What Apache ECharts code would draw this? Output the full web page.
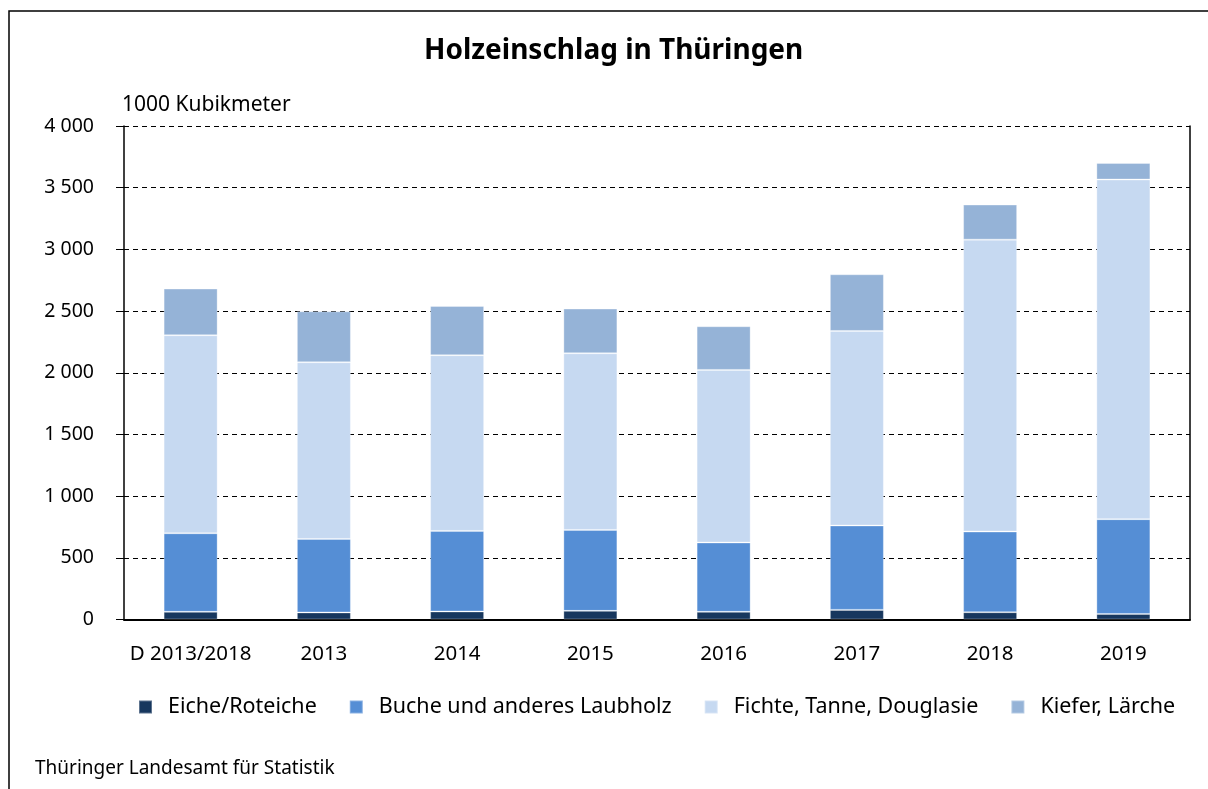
<!DOCTYPE html>
<html>
<head>
<meta charset="utf-8">
<title>Holzeinschlag in Thüringen</title>
<script src="https://cdn.jsdelivr.net/npm/echarts@6/dist/echarts.min.js"></script>
<style>
  html, body { margin: 0; padding: 0; background: #fff; }
  #chart { width: 1208px; height: 789px; }
</style>
</head>
<body>
<div id="chart"></div>
<script>
// Kategorien und Werte (1000 m³)
var categories = ['D 2013/2018', '2013', '2014', '2015', '2016', '2017', '2018', '2019'];
var eiche  = [62, 57, 65, 70, 62, 78, 59, 45];
var buche  = [637, 596, 653, 656, 562, 684, 654, 768];
var fichte = [1605, 1432, 1424, 1432, 1399, 1577, 2366, 2753];
var kiefer = [378, 413, 399, 362, 354, 459, 284, 134];
var seriesNames = ['Eiche/Roteiche', 'Buche und anderes Laubholz', 'Fichte, Tanne, Douglasie', 'Kiefer, Lärche'];
var colors = ['#17375E', '#558ED5', '#C6D9F1', '#95B3D7'];

var font = '"Noto Sans", "Open Sans", sans-serif';

function fmt(v) {
    return String(v).replace(/\B(?=(\d{3})+(?!\d))/g, ' ');
}

function makeSeries(name, data, color) {
    return {
        name: name,
        type: 'bar',
        stack: 'total',
        barWidth: 54,
        data: data,
        itemStyle: { color: color, borderColor: 'rgba(255,255,255,0.3)', borderWidth: 1 },
        emphasis: { disabled: true }
    };
}

var chart = echarts.init(document.getElementById('chart'), null, { renderer: 'canvas' });

chart.setOption({
    animation: false,
    color: colors,
    textStyle: { fontFamily: font },
    title: {
        text: 'Holzeinschlag in Thüringen',
        left: 424,
        top: 37,
        padding: 0,
        textStyle: { fontFamily: font, fontSize: 28, fontWeight: 'bold', color: '#000' }
    },
    graphic: [
        {
            type: 'rect',
            shape: { x: 9, y: 11, width: 1220, height: 800 },
            style: { fill: 'none', stroke: '#000', lineWidth: 1.5 },
            silent: true
        },
        {
            type: 'text',
            left: 35,
            top: 759,
            style: { text: 'Thüringer Landesamt für Statistik', font: '19px ' + font, fill: '#000' }
        }
    ],
    legend: {
        top: 691,
        left: 133,
        itemWidth: 13,
        itemHeight: 13,
        itemGap: 32,
        icon: 'rect',
        textStyle: { fontSize: 21.5, color: '#000', fontFamily: font, padding: [0, 0, 0, 11] },
        data: seriesNames
    },
    grid: { left: 124, right: 18, top: 126, bottom: 169.5, containLabel: false },
    xAxis: {
        type: 'category',
        data: categories,
        axisLine: { lineStyle: { color: '#000', width: 2 } },
        axisTick: { show: false },
        axisLabel: { color: '#000', fontSize: 20.5, margin: 24, interval: 0, fontFamily: font }
    },
    yAxis: [
        {
            type: 'value',
            min: 0,
            max: 4000,
            interval: 500,
            name: '1000 Kubikmeter',
            nameLocation: 'end',
            nameGap: 10,
            nameTextStyle: { color: '#000', fontSize: 21, align: 'left', padding: [0, 0, 0, -2], fontFamily: font },
            axisLine: { show: true, lineStyle: { color: '#000', width: 1.5 } },
            axisTick: { show: true, inside: false, length: 8, lineStyle: { color: '#000' } },
            axisLabel: { color: '#000', fontSize: 19.5, margin: 30, formatter: fmt, fontFamily: font },
            splitLine: { show: true, lineStyle: { color: '#000', type: [5, 4], width: 1 } }
        },
        {
            type: 'value',
            position: 'right',
            min: 0,
            max: 4000,
            interval: 500,
            axisLine: { show: true, lineStyle: { color: '#000', width: 1.5 } },
            axisTick: { show: false },
            axisLabel: { show: false },
            splitLine: { show: false }
        }
    ],
    series: [
        makeSeries(seriesNames[0], eiche, colors[0]),
        makeSeries(seriesNames[1], buche, colors[1]),
        makeSeries(seriesNames[2], fichte, colors[2]),
        makeSeries(seriesNames[3], kiefer, colors[3])
    ]
});

window.addEventListener('resize', function () {
    chart.resize();
});
</script>
</body>
</html>
